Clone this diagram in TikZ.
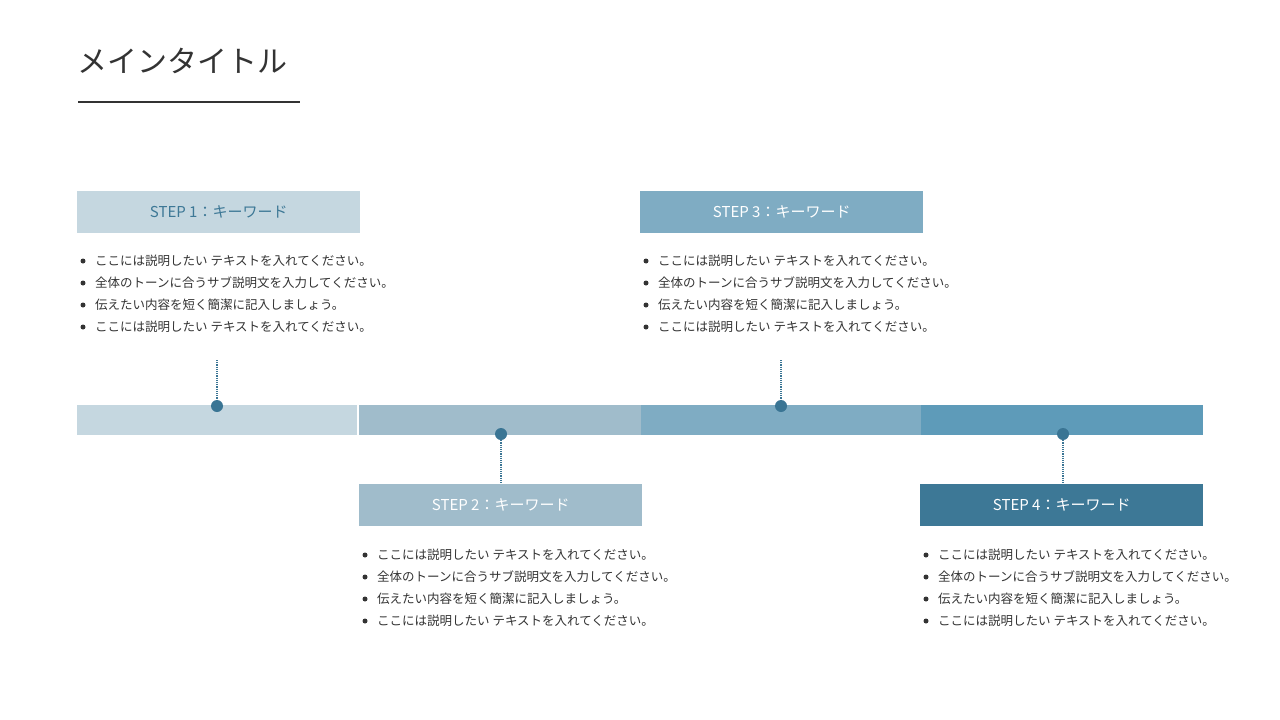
\documentclass[tikz,border=0pt]{standalone}
\usepackage{fontspec}
\setmainfont{Noto Sans CJK JP}
\definecolor{cA}{HTML}{C5D7E0}
\definecolor{cB}{HTML}{A0BCCB}
\definecolor{cC}{HTML}{7FACC3}
\definecolor{cD}{HTML}{5E9BB9}
\definecolor{cE}{HTML}{3D7896}
\definecolor{dotc}{HTML}{3A7594}
\definecolor{txt}{HTML}{333333}
\begin{document}
\begin{tikzpicture}[x=1pt,y=-1pt,
 head/.style={minimum width=283pt,minimum height=42pt,inner sep=0pt,anchor=north west,font=\fontsize{15}{15}\selectfont},
 seg/.style={minimum width=281pt,minimum height=30pt,inner sep=0pt,anchor=north west},
 dotn/.style={circle,fill=dotc,minimum size=12pt,inner sep=0pt},
 conn/.style={dotc,densely dotted,line width=1.2pt},
 item/.style={anchor=west,inner sep=0pt,font=\fontsize{12.5}{12.5}\selectfont,text=txt},
 bul/.style={circle,fill=txt,minimum size=5pt,inner sep=0pt}]
\useasboundingbox (0,0) rectangle (1280,720);
\fill[white] (0,0) rectangle (1280,720);
\node[anchor=base west,inner sep=0pt,font=\fontsize{30}{30}\selectfont,text=txt] (title) at (77,72) {メインタイトル};
\draw[txt,line width=2.5pt] (78,102) -- (300,102);
% bar
\node[seg,fill=cA,minimum width=280pt] (s1) at (77,405) {};
\node[seg,fill=cB,minimum width=282pt] (s2) at (359,405) {};
\node[seg,fill=cC,minimum width=280pt] (s3) at (641,405) {};
\node[seg,fill=cD,minimum width=282pt] (s4) at (921,405) {};
% headers
\node[head,fill=cA,text=cE] (h1) at (77,191) {STEP 1：キーワード};
\node[head,fill=cB,text=white] (h2) at (359,484) {STEP 2：キーワード};
\node[head,fill=cC,text=white] (h3) at (640,191) {STEP 3：キーワード};
\node[head,fill=cE,text=white] (h4) at (920,484) {STEP 4：キーワード};
% dots
\node[dotn] (d1) at (217,406) {};
\node[dotn] (d2) at (501,434) {};
\node[dotn] (d3) at (781,406) {};
\node[dotn] (d4) at (1063,434) {};
\coordinate (t1) at (217,360);
\coordinate (t3) at (781,360);
\draw[conn] (t1) -- (d1.north);
\draw[conn] (t3) -- (d3.north);
\draw[conn] (d2.south) -- (h2.north -| d2);
\draw[conn] (d4.south) -- (h4.north -| d4);
% bullets
\foreach \n/\x/\y in {1/77/261,2/359/555,3/640/261,4/920/555}{
 \foreach \t [count=\i from 0] in {ここには説明したい テキストを入れてください。,全体のトーンに合うサブ説明文を入力してください。,伝えたい内容を短く簡潔に記入しましょう。,ここには説明したい テキストを入れてください。}{
  \node[bul] (b\n\i) at (\x+6,\y+22*\i) {};
  \node[item] (l\n\i) at (\x+18,\y+22*\i) {\t};
 }
}
\end{tikzpicture}
\end{document}
